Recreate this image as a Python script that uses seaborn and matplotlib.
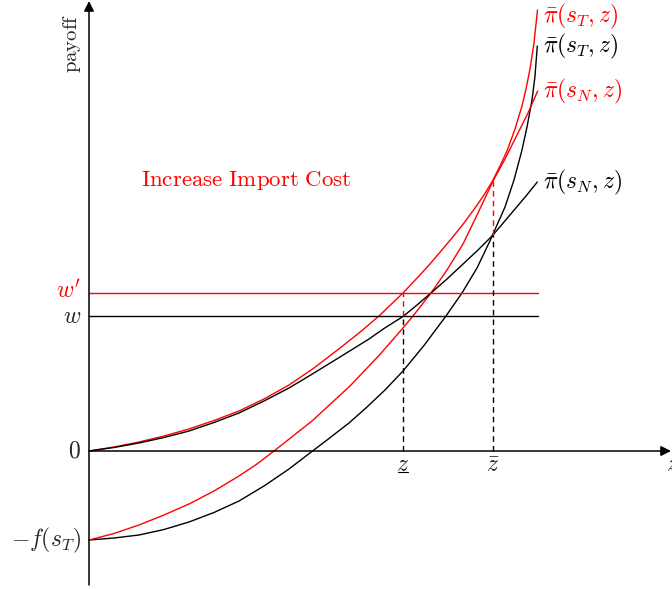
import pandas as pd
import matplotlib
matplotlib.use('Agg')
import matplotlib.pyplot as plt
import seaborn as sns
from matplotlib.mathtext import MathTextParser

# values (z on x axis, payoff on y axis)
z_pi_sT_red = [0, 25, 50, 75, 100, 125, 150, 175, 200, 225, 251, 270, 290, 314, 330, 341, 352, 363,
               375, 386, 395, 403.5, 411, 418, 426, 433, 437, 441, 445, 448.5]
pi_sT_red = [0, 4, 9, 15, 22, 30.5, 40, 52, 66, 83, 103, 118, 135, 158, 175, 187, 200, 213,
             228, 243, 256, 270, 285, 300, 322, 345, 362, 382, 408, 441]

z_pi_sN_black = [0, 25, 50, 75, 100, 125, 150, 175, 200, 225, 251, 280, 295, 314, 328, 342, 358, 373,
                 389, 404, 415, 426, 437, 448.3]
pi_sN_black = [0, 3.5, 8, 13.5, 20, 28.5, 38, 50, 63, 78, 94, 112, 122.5, 134.5, 146, 158, 172, 186,
               201, 216, 229, 242, 255, 269]

z_pi_sN_red = [0, 25, 50, 75, 100, 125, 150, 168, 185, 223, 261, 290, 314, 324, 342, 358, 374,
               389, 404, 416, 429, 439, 448.7]
pi_sN_red = [-89, -82.5, -74, -64, -53, -40, -25, -13, 0, 30, 65, 95.5, 123, 135, 158, 181, 207,
             238, 270, 292, 318, 338, 360]

z_pi_sT_black = [0, 25, 50, 75, 100, 125, 150, 175, 200, 223.5, 240, 260, 278, 296, 314, 335, 357,
                 373, 388, 401.4, 416, 425, 433, 438, 443, 446, 448.3]
pi_sT_black = [-89, -87, -84, -78.5, -71, -61.5, -50, -35, -18, 0, 12.5, 28, 44, 61, 80, 105.5, 135,
               158, 183, 211, 244, 271, 301, 324, 351, 375, 405]

w = 135
w_prime = 158
f_sT = 89
z_low = 313.7
z_bar = 403.7
pi_low_w = 135      # where pi(s_N,z) meets w
pi_low_wp = 158     # where red pi(s_T,z) meets w'
pi_bar_black = 216  # black curves cross
pi_bar_red = 270    # red curves cross
z_end = 448.5

sns.set_style('white')
plt.rcParams['mathtext.fontset'] = 'cm'

fig = plt.figure(figsize=(6.72, 5.89), dpi=100)
ax = fig.add_axes([0, 0, 1, 1])

lw = 1.0
curves = [
    (z_pi_sT_red, pi_sT_red, 'red'),
    (z_pi_sT_black, pi_sT_black, 'black'),
    (z_pi_sN_red, pi_sN_red, 'red'),
    (z_pi_sN_black, pi_sN_black, 'black'),
]
for zs, ps, col in curves:
    d = pd.DataFrame({'z': zs, 'payoff': ps})
    sns.lineplot(data=d, x='z', y='payoff', color=col, lw=lw, estimator=None, sort=False, ax=ax)

# wage lines
ax.plot([0, z_end], [w_prime, w_prime], color='red', lw=lw)
ax.plot([0, z_end], [w, w], color='black', lw=lw)

# dashed guides
dash = (0, (4, 3))
ax.plot([z_low, z_low], [0, pi_low_w], color='black', lw=lw, linestyle=dash)
ax.plot([z_low, z_low], [pi_low_w, pi_low_wp], color='red', lw=lw, linestyle=dash)
ax.plot([z_bar, z_bar], [0, pi_bar_black], color='black', lw=lw, linestyle=dash)
ax.plot([z_bar, z_bar], [pi_bar_black, pi_bar_red], color='red', lw=lw, linestyle=dash)

# axes with arrows
arr = dict(arrowstyle='-|>,head_length=0.6,head_width=0.3', color='black', lw=1.1, shrinkA=0, shrinkB=0)
ax.annotate('', xy=(0, 450), xytext=(0, -134), arrowprops=arr, annotation_clip=False)
ax.annotate('', xy=(582, 0), xytext=(0, 0), arrowprops=arr, annotation_clip=False)

fs = 17
ax.text(-17, 408, r'$\mathrm{payoff}$', rotation=90, ha='center', va='center', fontsize=15)
ax.text(157, 270, r'$\mathrm{Increase\ Import\ Cost}$', color='red', ha='center', va='center', fontsize=16.5)

ax.text(454, 435, r'$\bar{\pi}(s_T,z)$', color='red', ha='left', va='center', fontsize=fs)
ax.text(454, 405, r'$\bar{\pi}(s_T,z)$', color='black', ha='left', va='center', fontsize=fs)
ax.text(454, 360, r'$\bar{\pi}(s_N,z)$', color='red', ha='left', va='center', fontsize=fs)
ax.text(454, 269, r'$\bar{\pi}(s_N,z)$', color='black', ha='left', va='center', fontsize=fs)

ax.text(-8, 0, r'$0$', ha='right', va='center', fontsize=fs)
ax.text(-8, w, r'$w$', ha='right', va='center', fontsize=fs)
ax.text(-8, w_prime + 2, r"$w'$", color='red', ha='right', va='center', fontsize=fs)
ax.text(-8, -f_sT, r'$-f(s_T)$', ha='right', va='center', fontsize=fs)

try:
    MathTextParser('agg').parse(r'$\underline{z}$', dpi=100)
    zlow_label = r'$\underline{z}$'
except Exception:
    zlow_label = None
if zlow_label:
    ax.text(z_low, -15, zlow_label, ha='center', va='center', fontsize=fs)
else:
    ax.text(z_low, -13, r'$z$', ha='center', va='center', fontsize=fs)
    ax.plot([z_low - 5, z_low + 5], [-21, -21], color='black', lw=0.8)
ax.text(z_bar, -14, r'$\bar{z}$', ha='center', va='center', fontsize=fs)
ax.text(577, -13, r'$z$', ha='left', va='center', fontsize=fs)

ax.set_xlim(-89, 583)
ax.set_ylim(-138, 451)
ax.set_xlabel('')
ax.set_ylabel('')
ax.set_xticks([])
ax.set_yticks([])
for s in ax.spines.values():
    s.set_visible(False)

fig.savefig('out.png', dpi=100)
